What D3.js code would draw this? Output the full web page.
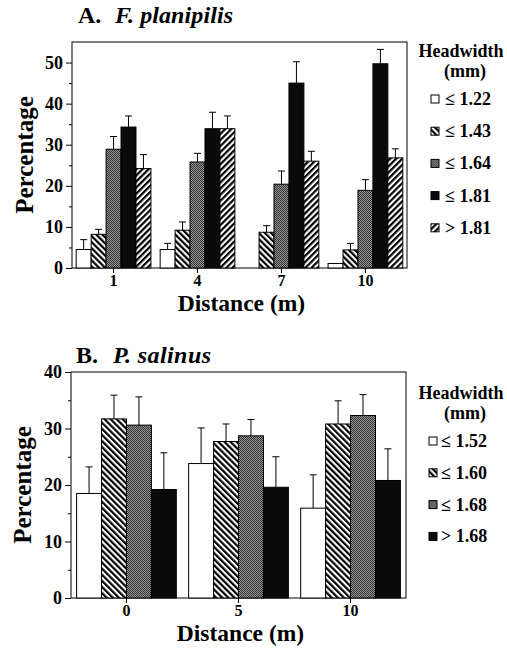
<!DOCTYPE html>
<html>
<head>
<meta charset="utf-8">
<script src="https://cdn.jsdelivr.net/npm/d3@7"></script>
<style>
  body { margin: 0; background: #fff; }
  svg text { font-family: "Liberation Serif", Times, "DejaVu Serif", serif !important; font-weight: bold; fill: #000; }
</style>
</head>
<body>
<div class="chart"></div>
<script>
// ---- panel A data: F. planipilis ----
var distA = ["1", "4", "7", "10"];
var classesA = ["≤ 1.22", "≤ 1.43", "≤ 1.64", "≤ 1.81", "> 1.81"];
// one array per headwidth class, one value per distance
var meanA = [
  [4.5, 4.5, 0, 1.1],
  [8.2, 9.2, 8.7, 4.4],
  [28.9, 25.8, 20.4, 18.9],
  [34.3, 33.9, 45.0, 49.7],
  [24.2, 33.9, 26.0, 26.8]
];
var errA = [
  [2.4, 1.5, 0, 0],
  [1.2, 2.0, 1.6, 1.6],
  [3.1, 2.1, 3.2, 2.6],
  [2.7, 4.0, 5.2, 3.5],
  [3.4, 3.1, 2.4, 2.2]
];
var ticksA = [0, 10, 20, 30, 40, 50];
var minorA = [5, 15, 25, 35, 45];

// ---- panel B data: P. salinus ----
var distB = ["0", "5", "10"];
var classesB = ["≤ 1.52", "≤ 1.60", "≤ 1.68", "> 1.68"];
var meanB = [
  [18.5, 23.8, 15.9],
  [31.7, 27.7, 30.8],
  [30.6, 28.7, 32.3],
  [19.2, 19.6, 20.8]
];
var errB = [
  [4.7, 6.3, 5.9],
  [4.2, 3.1, 4.1],
  [5.0, 2.9, 3.7],
  [6.5, 5.4, 5.6]
];
var ticksB = [0, 10, 20, 30, 40];
var minorB = [5, 15, 25, 35];

var svgWidth = 507;
var svgHeight = 648;
var serif = '"Liberation Serif", Times, "DejaVu Serif", serif';

var svg = d3.select(".chart")
  .append("svg")
  .attr("width", svgWidth)
  .attr("height", svgHeight)
  .attr("font-family", serif);

// fill patterns
var defs = svg.append("defs");

function hatch(id, angle) {
  var p = defs.append("pattern")
    .attr("id", id)
    .attr("patternUnits", "userSpaceOnUse")
    .attr("width", 4.3)
    .attr("height", 4.3)
    .attr("patternTransform", `rotate(${angle})`);
  p.append("rect").attr("width", 4.3).attr("height", 4.3).attr("fill", "#fff");
  p.append("rect").attr("width", 2.2).attr("height", 4.3).attr("fill", "#000");
}
hatch("hatchBack", -45);
hatch("hatchFwd", 45);

var stip = defs.append("pattern")
  .attr("id", "stipple")
  .attr("patternUnits", "userSpaceOnUse")
  .attr("width", 2)
  .attr("height", 2);
stip.append("rect").attr("width", 2).attr("height", 2).attr("fill", "#959595");
stip.append("rect").attr("width", 1).attr("height", 1).attr("fill", "#333");
stip.append("rect").attr("x", 1).attr("y", 1).attr("width", 1).attr("height", 1).attr("fill", "#333");

var fills = ["#fff", "url(#hatchBack)", "url(#stipple)", "#0a0a0a", "url(#hatchFwd)"];

function drawPanel(cfg) {
  var g = svg.append("g");

  var x0 = d3.scaleBand()
    .domain(cfg.cats)
    .range([cfg.left, cfg.right])
    .paddingInner(0.11)
    .paddingOuter(0.05);

  var x1 = d3.scaleBand()
    .domain(d3.range(cfg.classes.length))
    .range([0, x0.bandwidth()]);

  var y = d3.scaleLinear()
    .domain([0, cfg.ymax])
    .range([cfg.bottom, cfg.top]);

  // frame
  g.append("rect")
    .attr("x", cfg.left)
    .attr("y", cfg.top)
    .attr("width", cfg.right - cfg.left)
    .attr("height", cfg.bottom - cfg.top)
    .attr("fill", "none")
    .attr("stroke", "#000")
    .attr("stroke-width", 1);

  // bars
  var rows = [];
  cfg.means.forEach(function(series, s) {
    series.forEach(function(v, c) {
      rows.push({ s: s, cat: cfg.cats[c], v: v, e: cfg.errs[s][c] });
    });
  });

  g.selectAll(".bar")
    .data(rows.filter(d => d.v > 0))
    .enter()
    .append("rect")
    .attr("x", d => x0(d.cat) + x1(d.s))
    .attr("y", d => y(d.v))
    .attr("width", x1.bandwidth())
    .attr("height", d => y(0) - y(d.v))
    .attr("fill", d => fills[d.s])
    .attr("stroke", "#000")
    .attr("stroke-width", 1);

  // error bars (upper only)
  var eb = g.selectAll(".err")
    .data(rows.filter(d => d.e > 0))
    .enter()
    .append("g")
    .attr("transform", d => `translate(${x0(d.cat) + x1(d.s) + x1.bandwidth() / 2},0)`);
  eb.append("line")
    .attr("y1", d => y(d.v))
    .attr("y2", d => y(d.v + d.e))
    .attr("stroke", "#000");
  eb.append("line")
    .attr("x1", -3.5).attr("x2", 3.5)
    .attr("y1", d => y(d.v + d.e))
    .attr("y2", d => y(d.v + d.e))
    .attr("stroke", "#000");

  // axes
  var yAxis = g.append("g")
    .attr("transform", `translate(${cfg.left},0)`)
    .call(d3.axisLeft(y).tickValues(cfg.ticks).tickSize(6).tickPadding(3));
  yAxis.attr("font-family", serif);
  yAxis.selectAll("text").style("font-size", "18px");
  yAxis.select(".domain").remove();

  var yMinor = g.append("g")
    .attr("transform", `translate(${cfg.left},0)`)
    .call(d3.axisLeft(y).tickValues(cfg.minor).tickSize(3).tickFormat(""));
  yMinor.select(".domain").remove();

  var xAxis = g.append("g")
    .attr("transform", `translate(0,${cfg.bottom})`)
    .call(d3.axisBottom(x0).tickSize(5).tickSizeOuter(0).tickPadding(2));
  xAxis.attr("font-family", serif);
  xAxis.selectAll("text").style("font-size", "16px");
  xAxis.select(".domain").remove();

  // axis titles
  g.append("text")
    .attr("transform", "rotate(-90)")
    .attr("x", -(cfg.top + cfg.bottom) / 2)
    .attr("y", cfg.ylabX)
    .attr("text-anchor", "middle")
    .style("font-size", "25px")
    .text("Percentage");

  g.append("text")
    .attr("x", (cfg.left + cfg.right) / 2 + 2)
    .attr("y", cfg.xlabY)
    .attr("text-anchor", "middle")
    .style("font-size", "23.5px")
    .text("Distance (m)");

  // panel title
  g.append("text")
    .attr("x", cfg.titleX)
    .attr("y", cfg.titleY)
    .style("font-size", "24px")
    .text(cfg.letter);
  g.append("text")
    .attr("x", cfg.titleX + 37)
    .attr("y", cfg.titleY)
    .attr("textLength", cfg.titleLen)
    .attr("lengthAdjust", "spacing")
    .style("font-size", "24px")
    .style("font-style", "italic")
    .text(cfg.species);

  // legend
  var lg = g.append("g");
  lg.append("text")
    .attr("x", 461)
    .attr("y", cfg.legY)
    .attr("text-anchor", "middle")
    .style("font-size", "18px")
    .text("Headwidth");
  lg.append("text")
    .attr("x", 465)
    .attr("y", cfg.legY + 20)
    .attr("text-anchor", "middle")
    .style("font-size", "18px")
    .text("(mm)");

  var item = lg.selectAll(".item")
    .data(cfg.classes)
    .enter()
    .append("g")
    .attr("transform", (d, i) => `translate(${cfg.legX},${cfg.legY + 42 + i * cfg.legStep})`);
  item.append("rect")
    .attr("x", 0)
    .attr("y", -4)
    .attr("width", 8)
    .attr("height", 8)
    .attr("fill", (d, i) => fills[i])
    .attr("stroke", "#000")
    .attr("stroke-width", 1);
  item.append("text")
    .attr("x", cfg.legText)
    .attr("y", 6)
    .style("font-size", "18px")
    .text(d => d);
}

drawPanel({
  cats: distA, classes: classesA, means: meanA, errs: errA,
  ticks: ticksA, minor: minorA, ymax: 55,
  left: 72, right: 407, top: 42, bottom: 268,
  ylabX: 33, xlabY: 311,
  titleX: 78, titleY: 23, titleLen: 118, letter: "A.", species: "F. planipilis",
  legY: 57, legX: 431, legText: 14, legStep: 32.2
});

drawPanel({
  cats: distB, classes: classesB, means: meanB, errs: errB,
  ticks: ticksB, minor: minorB, ymax: 40,
  left: 71, right: 406, top: 372, bottom: 598,
  ylabX: 31, xlabY: 641,
  titleX: 76, titleY: 363, titleLen: 98, letter: "B.", species: "P. salinus",
  legY: 399, legX: 429, legText: 12, legStep: 31.8
});
</script>
</body>
</html>
